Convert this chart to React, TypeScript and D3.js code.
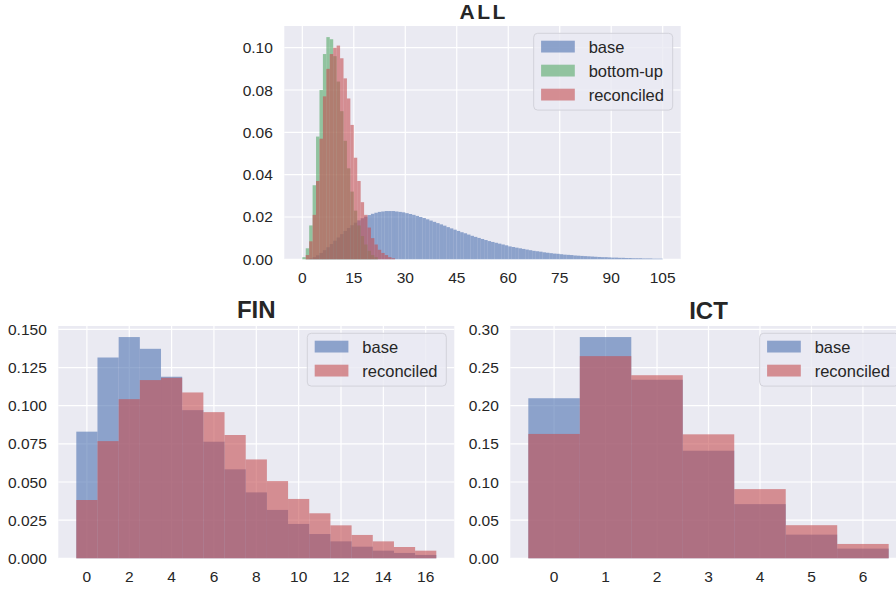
import React from "react";
import * as d3 from "d3";

const W = 896;
const H = 591;
const FONT = "'Liberation Sans', Arial, Helvetica, sans-serif";
const PLOT_BG = "#EAEAF2";
const TEXT = "#262626";
const BLUE = "#4C72B0";
const GREEN = "#55A868";
const RED = "#C44E52";

// ALL: bins of width 1 starting at 0
const allBase = [
  0.0000, 0.0001, 0.0004, 0.0010, 0.0019, 0.0030, 0.0043, 0.0057, 0.0072, 0.0088,
  0.0103, 0.0119, 0.0134, 0.0148, 0.0161, 0.0173, 0.0184, 0.0194, 0.0202, 0.0209,
  0.0215, 0.0220, 0.0224, 0.0226, 0.0228, 0.0228, 0.0228, 0.0226, 0.0224, 0.0222,
  0.0218, 0.0214, 0.0210, 0.0205, 0.0200, 0.0195, 0.0189, 0.0183, 0.0177, 0.0171,
  0.0165, 0.0159, 0.0152, 0.0146, 0.0140, 0.0134, 0.0128, 0.0123, 0.0117, 0.0111,
  0.0106, 0.0101, 0.0096, 0.0091, 0.0086, 0.0082, 0.0078, 0.0074, 0.0070, 0.0066,
  0.0061, 0.0058, 0.0055, 0.0052, 0.0049, 0.0046, 0.0043, 0.0040, 0.0038, 0.0036,
  0.0033, 0.0031, 0.0029, 0.0027, 0.0026, 0.0024, 0.0022, 0.0021, 0.0020, 0.0018,
  0.0017, 0.0016, 0.0015, 0.0014, 0.0013, 0.0012, 0.0011, 0.0010, 0.0010, 0.0009,
  0.0008, 0.0008, 0.0007, 0.0007, 0.0006, 0.0006, 0.0005, 0.0005, 0.0005, 0.0004,
  0.0004, 0.0004, 0.0003, 0.0003, 0.0003,
];
const allBottomUp = [
  0.001, 0.0052, 0.016, 0.035, 0.058, 0.080, 0.097, 0.105, 0.104, 0.096,
  0.084, 0.070, 0.056, 0.043, 0.032, 0.023, 0.016, 0.011, 0.007, 0.004,
  0.002, 0.001,
];
const allReconciled = [
  0.000, 0.002, 0.0085, 0.021, 0.037, 0.057, 0.077, 0.090, 0.097, 0.100,
  0.101, 0.095, 0.0855, 0.076, 0.0635, 0.048, 0.037, 0.027, 0.021, 0.015,
  0.010, 0.007, 0.0045, 0.003, 0.002, 0.001, 0.0005,
];
const allXTicks = [0, 15, 30, 45, 60, 75, 90, 105];
const allYTicks = [0, 0.02, 0.04, 0.06, 0.08, 0.1];

// FIN: integer-centred bins 0..16
const finBase = [
  0.083, 0.1316, 0.145, 0.1373, 0.119, 0.0971, 0.0764, 0.0583, 0.0432,
  0.0317, 0.0225, 0.0159, 0.0111, 0.0076, 0.005, 0.0035, 0.0022,
];
const finReconciled = [
  0.0382, 0.0768, 0.1043, 0.1168, 0.1183, 0.1087, 0.0958, 0.0808, 0.0648,
  0.0506, 0.0389, 0.0295, 0.0216, 0.0153, 0.0111, 0.0074, 0.005,
];
const finXTicks = [0, 2, 4, 6, 8, 10, 12, 14, 16];
const finYTicks = [0, 0.025, 0.05, 0.075, 0.1, 0.125, 0.15];

// ICT: integer-centred bins 0..6
const ictBase = [0.2098, 0.29, 0.234, 0.141, 0.071, 0.031, 0.0127];
const ictReconciled = [0.163, 0.265, 0.24, 0.1625, 0.0907, 0.0434, 0.0188];
const ictXTicks = [0, 1, 2, 3, 4, 5, 6];
const ictYTicks = [0, 0.05, 0.1, 0.15, 0.2, 0.25, 0.3];

type Series = { label: string; color: string; values: number[] };

type PanelProps = {
  title: string;
  titleSize: number;
  titleSpacing?: number;
  titleGap: number;
  left: number;
  top: number;
  width: number;
  height: number;
  binStart: number;
  series: Series[];
  xTicks: number[];
  yTicks: number[];
  yFmt: string;
};

const Panel = ({ title, titleSize, titleSpacing = 0, titleGap, left, top, width, height, binStart, series, xTicks, yTicks, yFmt }: PanelProps) => {
  const nBins = d3.max(series, (s) => s.values.length) as number;
  const binEnd = binStart + nBins;
  const pad = (binEnd - binStart) * 0.05;
  const yMax = (d3.max(series, (s) => d3.max(s.values)) as number) * 1.05;

  const x = d3.scaleLinear().domain([binStart - pad, binEnd + pad]).range([left, left + width]);
  const y = d3.scaleLinear().domain([0, yMax]).range([top + height, top]);
  const fmt = d3.format(yFmt);

  // legend box, upper right
  const legW = 139;
  const legX = left + width - 8 - legW;
  const legY = top + 7.3;
  const legH = 13.3 + (series.length - 1) * 24 + 15.5;

  return (
    <g>
      <rect x={left} y={top} width={width} height={height} fill={PLOT_BG} />
      {xTicks.map((t) => (
        <line key={`gx${t}`} x1={x(t)} x2={x(t)} y1={top} y2={top + height} stroke="#fff" strokeWidth={1.2} />
      ))}
      {yTicks.map((t) => (
        <line key={`gy${t}`} x1={left} x2={left + width} y1={y(t)} y2={y(t)} stroke="#fff" strokeWidth={1.2} />
      ))}

      {series.map((s) => (
        <g key={s.label}>
          {s.values.map((v, i) =>
            v > 0 ? (
              <rect
                key={i}
                x={x(binStart + i)}
                y={y(v)}
                width={x(binStart + i + 1) - x(binStart + i)}
                height={y(0) - y(v)}
                fill={s.color}
                fillOpacity={0.6}
              />
            ) : null
          )}
        </g>
      ))}

      {/* legend */}
      <rect x={legX} y={legY} width={legW} height={legH} rx={4} fill={PLOT_BG} fillOpacity={0.8} stroke="#d2d2da" strokeWidth={1} />
      {series.map((s, i) => {
        const cy = legY + 13.3 + i * 24;
        return (
          <g key={`leg-${s.label}`}>
            <rect x={legX + 7.4} y={cy - 5.9} width={33.7} height={11.8} fill={s.color} fillOpacity={0.6} />
            <text x={legX + 55} y={cy + 5.9} fontSize={16.5} fontFamily={FONT} fill={TEXT}>
              {s.label}
            </text>
          </g>
        );
      })}

      {yTicks.map((t) => (
        <text key={`ty${t}`} x={left - 11.5} y={y(t) + 5.5} textAnchor="end" fontSize={15.5} fontFamily={FONT} fill={TEXT}>
          {fmt(t)}
        </text>
      ))}
      {xTicks.map((t) => (
        <text key={`tx${t}`} x={x(t)} y={top + height + 23.5} textAnchor="middle" fontSize={15.5} fontFamily={FONT} fill={TEXT}>
          {t}
        </text>
      ))}

      <text
        x={left + width / 2 + titleSpacing / 2}
        y={top - titleGap}
        textAnchor="middle"
        fontSize={titleSize}
        fontWeight="bold"
        fontFamily={FONT}
        letterSpacing={titleSpacing}
        fill={TEXT}
      >
        {title}
      </text>
    </g>
  );
};

export default function App() {
  return (
    <>
      <style>{`body{margin:0;}`}</style>
      <svg width={W} height={H} style={{ display: "block", background: "#fff" }}>
        <Panel
          title="ALL"
          titleSize={21}
          titleSpacing={2.5}
          titleGap={7}
          left={284.3}
          top={26}
          width={396.4}
          height={233.3}
          binStart={0}
          series={[
            { label: "base", color: BLUE, values: allBase },
            { label: "bottom-up", color: GREEN, values: allBottomUp },
            { label: "reconciled", color: RED, values: allReconciled },
          ]}
          xTicks={allXTicks}
          yTicks={allYTicks}
          yFmt=".2f"
        />
        <Panel
          title="FIN"
          titleSize={24}
          titleGap={8.2}
          left={58.3}
          top={326}
          width={396}
          height={232.3}
          binStart={-0.5}
          series={[
            { label: "base", color: BLUE, values: finBase },
            { label: "reconciled", color: RED, values: finReconciled },
          ]}
          xTicks={finXTicks}
          yTicks={finYTicks}
          yFmt=".3f"
        />
        <Panel
          title="ICT"
          titleSize={24}
          titleGap={7.5}
          left={510.3}
          top={326}
          width={396.4}
          height={232.3}
          binStart={-0.5}
          series={[
            { label: "base", color: BLUE, values: ictBase },
            { label: "reconciled", color: RED, values: ictReconciled },
          ]}
          xTicks={ictXTicks}
          yTicks={ictYTicks}
          yFmt=".2f"
        />
      </svg>
    </>
  );
}
